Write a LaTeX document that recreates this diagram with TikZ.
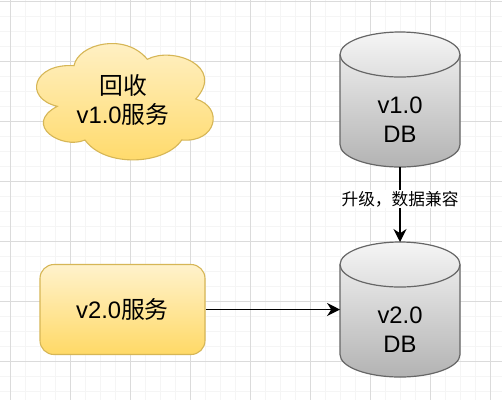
\documentclass[tikz,border=0pt]{standalone}
\usepackage{fontspec}
\setmainfont{Liberation Sans}
\newfontfamily\cjk{Noto Sans CJK SC}
\usetikzlibrary{arrows.meta}

\begin{document}
\begin{tikzpicture}[
  x=1pt,y=-1pt,
  >={Stealth[length=13pt,width=13pt]},
  minorline/.style={black!4,line width=1pt},
  majorline/.style={black!14,line width=1pt},
  service/.style={draw=svcline,line width=1.1pt,top color=svctop,bottom color=svcbot},
  dbbox/.style={minimum width=120pt,minimum height=135pt,inner sep=0pt,outer sep=0pt},
  dbbody/.style={draw=dbline,line width=1.2pt,top color=dbtop,bottom color=dbbot},
  title/.style={font=\fontsize{23.8}{28.5}\selectfont,align=center,text=black},
  link/.style={->,line width=1.4pt,black},
]
  \definecolor{svctop}{HTML}{FFF2CC}
  \definecolor{svcbot}{HTML}{FFD966}
  \definecolor{svcline}{HTML}{D6B656}
  \definecolor{dbtop}{HTML}{F5F5F5}
  \definecolor{dbbot}{HTML}{B3B3B3}
  \definecolor{dbline}{HTML}{666666}
  \useasboundingbox[fill=white] (0,0) rectangle (502,400);
  % grid
  \foreach \i in {0,...,33} \draw[minorline] ({10.5+15*\i},0) -- ({10.5+15*\i},400);
  \foreach \j in {0,...,26} \draw[minorline] (0,{1.5+15*\j}) -- (502,{1.5+15*\j});
  \foreach \i in {0,...,8} \draw[majorline] ({10.5+60*\i},0) -- ({10.5+60*\i},400);
  \foreach \j in {0,...,6} \draw[majorline] (0,{1.5+60*\j}) -- (502,{1.5+60*\j});
  % cloud
  \path[service] (74,65.7)
    .. controls (78,44) and (125,32) .. (147.3,59.3)
    .. controls (172,46) and (226,66) .. (195.7,99)
    .. controls (224,107) and (217,143) .. (181.7,140)
    .. controls (165,165) and (105,168) .. (85,140)
    .. controls (62,150) and (22,125) .. (57.3,106.3)
    .. controls (23,98) and (33,63) .. (74,65.7) -- cycle;
  \node[title] (cloudtext) at (123,100) {{\cjk 回收}\\v1.0{\cjk 服务}};
  % databases
  \node[dbbox] (db1) at (400,99.5) {};
  \node[dbbox] (db2) at (400,309.5) {};
  \foreach \db in {db1,db2} {
    \path[dbbody] ([yshift=-22.5pt]\db.north west)
      arc[start angle=180,end angle=0,x radius=60pt,y radius=22.5pt]
      -- ([yshift=22.5pt]\db.south east)
      arc[start angle=0,end angle=-180,x radius=60pt,y radius=22.5pt] -- cycle;
    \draw[dbline,line width=1.2pt] ([yshift=-22.5pt]\db.north west)
      arc[start angle=180,end angle=360,x radius=60pt,y radius=22.5pt];
  }
  \node[title] (db1text) at (400,119.5) {v1.0\\DB};
  \node[title] (db2text) at (400,329.5) {v2.0\\DB};
  % service box
  \node[service,rounded corners=14pt,minimum width=165pt,minimum height=90pt,inner sep=0pt,title] (v2) at (122.5,309.5) {v2.0{\cjk 服务}};
  % connectors
  \draw[link] (db1.south) -- node[pos=.43,fill=white,inner sep=1pt,font=\cjk\fontsize{16.7}{20}\selectfont] (upgrade) {升级，数据兼容} (db2.north);
  \draw[link] (v2.east) -- (db2.west);
\end{tikzpicture}
\end{document}
